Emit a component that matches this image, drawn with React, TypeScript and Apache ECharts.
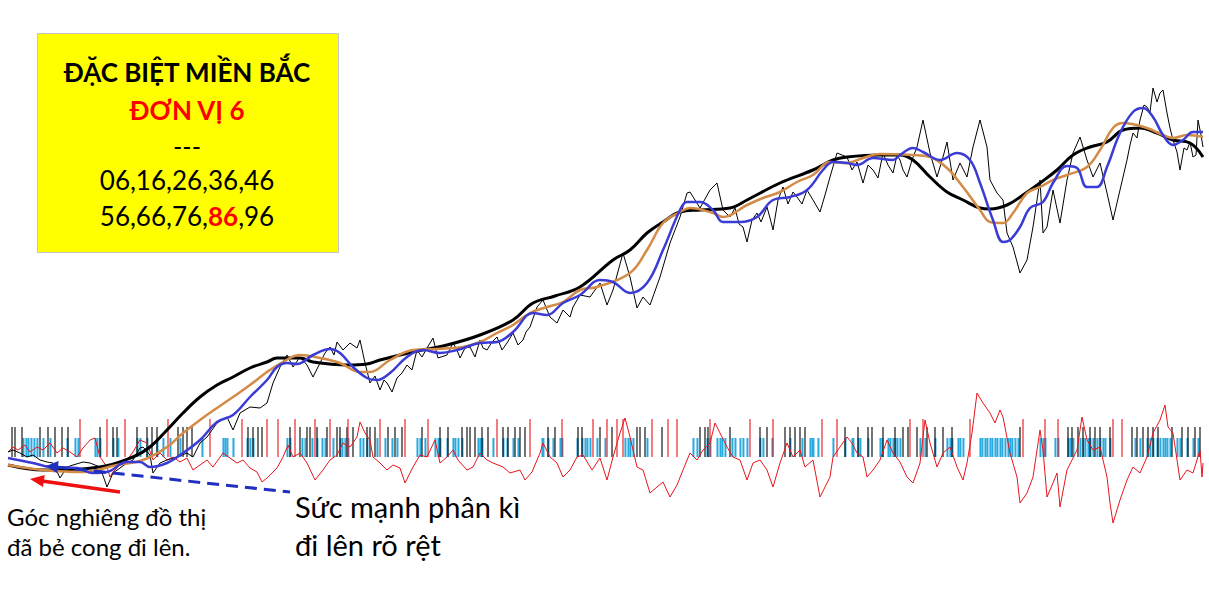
import React, { useEffect, useRef } from "react";
import * as echarts from "echarts";

// x unit: trading-day index (0..1195); price in arbitrary points
const priceX = [0,5,12,19,25,32,39,45,52,59,65,75,82,92,99,105,112,119,125,132,135,142,145,152,159,169,179,185,192,199,209,219,225,232,242,252,259,265,272,279,285,292,299,305,312,322,329,335,342,349,352,357,362,372,379,389,399,409,419,425,430,439,445,452,462,472,479,489,499,505,515,522,529,535,542,549,555,562,565,572,582,592,599,605,615,622,629,635,642,652,662,672,679,682,692,702,709,715,722,735,739,749,759,765,775,789,799,812,822,829,839,855,865,875,885,892,899,909,915,922,929,935,939,945,952,959,965,972,979,982,989,995,999,1005,1012,1019,1025,1032,1035,1039,1045,1052,1059,1065,1072,1079,1085,1092,1099,1105,1112,1119,1125,1132,1139,1145,1152,1159,1165,1172,1179,1185,1190,1195];
const priceY = [48,50,47,43,45,40,38,37,22,33,35,38,37,33,13,27,32,37,40,52,53,45,27,37,40,43,47,43,57,63,77,83,70,87,93,92,97,117,133,145,133,143,135,123,137,153,158,150,157,152,160,137,117,110,117,122,135,150,152,162,142,145,157,142,153,160,150,163,157,167,160,173,193,200,183,177,190,183,193,205,203,217,195,210,247,223,192,203,195,223,257,283,307,308,292,310,317,290,283,273,258,287,293,270,313,303,310,288,323,347,343,317,330,347,327,340,323,353,380,347,323,343,358,320,337,323,353,380,353,320,307,300,267,253,227,240,273,320,267,273,310,277,320,347,363,340,323,337,307,280,310,340,367,380,393,412,407,387,360,330,350,343,380,353];
// extra small swings read in the densest stretches
const priceDetailX = [317,326,367,376,384,394,404,414,449,457,467,475,484,494,510,518,727,731,744,753,762,770,780,785,794,805,817,844,849,860,870,880,889,895,904,1122,1129,1136,1142,1149,1155,1162,1169,1176,1182,1188,1193];
const priceDetailY = [147,145,124,120,108,127,130,143,150,152,143,152,158,150,155,168,292,276,280,278,282,300,296,308,296,300,305,330,338,335,322,335,345,330,340,355,362,395,388,398,410,372,348,352,358,345,365];

const fastX = [0,25,42,69,85,99,119,132,142,159,175,192,209,225,242,259,269,279,289,305,322,332,345,359,369,382,399,415,432,449,472,489,505,525,539,555,572,592,605,622,639,655,672,679,692,705,715,732,749,765,782,799,815,825,839,849,865,885,892,905,915,932,949,962,972,985,995,1002,1012,1022,1035,1045,1059,1069,1079,1089,1099,1112,1125,1135,1145,1155,1165,1175,1185,1195];
const fastY = [42,37,33,32,27,28,38,38,33,37,47,60,78,85,103,120,133,137,136,145,151,147,133,122,120,127,143,150,147,150,157,158,168,187,185,197,205,220,218,207,217,250,290,298,298,290,278,278,283,300,303,310,330,338,337,335,342,340,345,352,348,340,347,340,317,280,258,260,273,292,298,317,334,332,313,313,333,367,388,392,383,365,355,360,368,368];

const midX = [0,35,75,109,135,159,175,192,209,225,242,259,275,292,312,332,352,362,382,405,429,455,472,489,505,522,539,555,572,589,622,639,655,672,682,705,715,739,755,772,789,805,822,839,855,872,905,922,939,955,972,982,995,1005,1019,1032,1045,1059,1079,1092,1105,1115,1139,1155,1165,1179,1195];
const midY = [35,30,28,35,40,53,67,80,92,103,115,128,138,145,142,137,128,128,140,150,151,153,158,167,175,187,193,198,210,213,227,250,277,288,292,287,283,295,302,308,318,325,338,337,342,346,345,343,332,313,290,278,277,287,307,313,320,325,333,350,372,377,372,365,362,365,363];

const slowX = [0,35,92,125,142,159,175,192,209,225,242,259,269,292,305,339,359,372,405,439,472,505,525,547,572,605,622,639,655,672,692,722,739,772,805,825,839,872,892,905,922,939,955,972,982,999,1015,1032,1049,1065,1082,1099,1115,1132,1149,1165,1182,1195];
const slowY = [35,30,33,43,53,70,87,103,115,123,132,138,142,142,138,135,136,140,148,155,165,180,197,204,213,240,250,267,278,288,290,292,300,317,330,340,343,345,345,340,323,308,300,292,291,295,305,317,330,345,353,358,370,372,367,360,357,343];

const oscX = [0,5,10,17,22,29,35,42,49,55,62,69,75,82,87,92,99,102,105,112,119,125,132,139,145,152,159,165,172,179,185,192,199,205,215,222,229,235,242,249,254,259,269,275,280,285,292,299,307,315,322,329,335,342,349,352,357,362,365,372,379,385,392,397,405,412,419,427,432,439,445,450,459,465,472,479,485,495,502,512,517,524,532,535,542,549,555,562,569,575,584,592,599,605,612,617,622,629,635,642,649,655,662,669,675,682,689,695,702,707,712,719,725,732,739,745,752,759,765,772,779,785,792,797,805,812,822,825,832,839,844,849,855,859,865,872,879,885,892,899,905,912,917,922,929,935,942,949,955,959,964,969,975,982,987,992,995,1002,1009,1012,1019,1025,1032,1035,1039,1045,1049,1052,1059,1069,1074,1079,1085,1092,1099,1102,1105,1112,1119,1125,1132,1139,1145,1152,1157,1160,1165,1172,1179,1185,1192,1194,1195];
const oscY = [78,83,80,85,78,83,80,87,77,82,78,73,82,90,92,73,63,53,58,65,70,78,90,87,70,77,70,73,68,72,60,65,70,63,77,72,67,70,62,58,48,52,62,73,85,73,77,67,50,60,70,75,87,83,93,108,97,90,73,67,60,65,62,47,63,75,73,90,67,73,80,70,60,63,77,70,67,63,57,60,50,58,77,87,73,67,53,60,73,75,60,72,50,73,97,112,93,63,60,37,43,48,33,45,60,77,70,80,87,107,97,83,73,70,50,67,70,60,43,67,87,73,80,63,70,33,53,73,83,93,87,77,73,53,60,70,90,77,68,53,47,67,110,87,63,77,83,63,50,67,97,137,127,117,107,120,113,77,53,27,37,53,100,80,33,47,57,23,60,80,113,90,80,83,53,27,7,30,50,63,57,73,97,110,125,103,97,50,60,57,80,53,67];

const blackTicks = [4,7,14,32,40,47,54,60,92,105,109,129,139,144,149,170,175,179,184,240,245,250,254,282,292,299,302,309,319,329,332,339,345,359,362,367,380,387,394,414,432,440,454,459,462,467,474,480,495,500,507,512,517,540,547,570,574,592,604,629,632,637,654,692,697,700,722,752,759,777,782,787,792,797,837,850,860,864,875,887,895,900,909,919,927,935,944,1012,1060,1064,1070,1075,1082,1087,1092,1102,1124,1129,1135,1140,1145,1150,1164,1174,1180,1187,1192];
const redTicks = [72,99,117,160,202,234,259,270,287,307,322,340,372,397,420,489,522,554,585,599,609,615,644,660,669,702,742,765,814,829,902,915,962,1015,1037,1050,1105,1114];
const cyanTicks = [15,18,20,23,26,29,35,42,59,67,70,87,89,92,105,110,129,132,139,149,155,162,172,194,215,217,219,225,239,242,245,279,282,294,297,304,309,314,317,325,332,334,337,340,352,355,359,369,377,384,389,409,412,417,427,430,432,439,445,447,450,454,470,472,474,485,495,499,505,510,534,535,540,545,552,554,569,574,577,579,582,589,597,617,620,622,625,639,685,689,699,702,709,712,714,717,724,727,732,735,739,752,755,764,782,794,802,804,805,810,825,837,844,845,850,852,860,872,874,880,882,885,887,889,892,912,917,927,939,942,944,950,952,955,972,974,977,979,982,984,987,989,992,994,997,1000,1002,1004,1007,1010,1032,1035,1037,1047,1050,1060,1062,1065,1072,1075,1077,1080,1082,1085,1089,1092,1095,1097,1102,1127,1132,1139,1142,1145,1149,1152,1155,1157,1159,1162,1169,1172,1179,1185,1190];
const tickLevels = { red: 38, black: 30, cyan: 19 };

const titleLines = ["ĐẶC BIỆT MIỀN BẮC", "ĐƠN VỊ 6", "---", "06,16,26,36,46"];
const lastLine = ["56,66,76,", "86", ",96"];
const noteLeft = ["Góc nghiêng đồ thị", "đã bẻ cong đi lên."];
const noteRight = ["Sức mạnh phân kì", "đi lên rõ rệt"];

const FONT = "Lato, 'Open Sans', 'DejaVu Sans', sans-serif";
const zip = (xs: number[], ys: number[]) => xs.map((x, i) => [x, ys[i]]);

export default function App() {
  const ref = useRef<HTMLDivElement>(null);
  useEffect(() => {
    const chart = echarts.init(ref.current!, null, { renderer: "svg" });
    const grids = [
      { left: 8, right: 6, top: 80, height: 420 },
      { left: 8, right: 6, top: 390, height: 140 },
      { left: 8, right: 6, top: 419, height: 38 },
    ];
    const xAxis = grids.map((_, i) => ({ type: "value", gridIndex: i, min: 0, max: 1195, show: false }));
    const yAxis = [
      { type: "value", gridIndex: 0, min: 0, max: 420, show: false },
      { type: "value", gridIndex: 1, min: 0, max: 140, show: false },
      { type: "value", gridIndex: 2, min: 0, max: 38, show: false },
    ];
    const barSeries = (ticks: number[], level: number, color: string, w: number, z: number) => ({
      type: "bar",
      xAxisIndex: 2,
      yAxisIndex: 2,
      barWidth: w,
      barGap: "-100%",
      z,
      itemStyle: { color },
      data: ticks.map((t) => [t, level]),
    });
    const lineSeries = (data: number[][], color: string, width: number, axis: number, z: number, smooth: number | boolean) => ({
      type: "line",
      xAxisIndex: axis,
      yAxisIndex: axis,
      showSymbol: false,
      smooth,
      z,
      lineStyle: { color, width },
      data,
    });
    const priceData = zip(priceX, priceY).concat(zip(priceDetailX, priceDetailY)).sort((a, b) => a[0] - b[0]);
    const cx = 187;
    chart.setOption({
      animation: false,
      grid: grids,
      xAxis,
      yAxis,
      series: [
        barSeries(cyanTicks, tickLevels.cyan, "#27aae0", 2, 1),
        barSeries(blackTicks, tickLevels.black, "#000000", 1.1, 2),
        barSeries(redTicks, tickLevels.red, "#e8141c", 1.1, 2),
        lineSeries(zip(oscX, oscY), "#e8141c", 1, 1, 3, false),
        lineSeries(priceData, "#000000", 1, 0, 4, false),
        lineSeries(zip(slowX, slowY), "#000000", 3, 0, 5, 0.4),
        lineSeries(zip(midX, midY), "#d38b45", 2.5, 0, 6, 0.4),
        lineSeries(zip(fastX, fastY), "#3b3bd6", 2.5, 0, 7, 0.4),
      ],
      graphic: [
        { type: "rect", shape: { x: 37.5, y: 33.5, width: 301, height: 219 }, style: { fill: "#ffff00", stroke: "#c4c4c4", lineWidth: 1 }, z: 10 },
        { type: "text", x: cx, y: 72, z: 11, style: { text: titleLines[0], fontFamily: FONT, fontWeight: "bold", fontSize: 26, fill: "#000", align: "center", verticalAlign: "middle" } },
        { type: "text", x: cx, y: 110, z: 11, style: { text: titleLines[1], fontFamily: FONT, fontWeight: "bold", fontSize: 26, fill: "#ff0000", align: "center", verticalAlign: "middle" } },
        { type: "text", x: cx, y: 146, z: 11, style: { text: titleLines[2], fontFamily: FONT, fontSize: 25, fill: "#000", align: "center", verticalAlign: "middle" } },
        { type: "text", x: cx, y: 180, z: 11, style: { text: titleLines[3], fontFamily: FONT, fontSize: 26, fill: "#000", align: "center", verticalAlign: "middle" } },
        {
          type: "text", x: cx, y: 216, z: 11,
          style: {
            text: `{n|${lastLine[0]}}{r|${lastLine[1]}}{n|${lastLine[2]}}`,
            align: "center", verticalAlign: "middle",
            rich: {
              n: { fontFamily: FONT, fontSize: 26, fill: "#000" },
              r: { fontFamily: FONT, fontSize: 26, fontWeight: "bold", fill: "#ff0000" },
            },
          },
        },
        // red arrow
        { type: "line", z: 12, shape: { x1: 120, y1: 492, x2: 42, y2: 481 }, style: { stroke: "#ee1111", lineWidth: 3.5 } },
        { type: "polygon", z: 12, shape: { points: [[30, 479], [44.7, 475], [43, 487]] }, style: { fill: "#ee1111" } },
        // blue dashed arrow
        { type: "line", z: 12, shape: { x1: 56, y1: 467, x2: 290, y2: 492 }, style: { stroke: "#1f2fc0", lineWidth: 3, lineDash: [12, 7] } },
        { type: "polygon", z: 12, shape: { points: [[46, 466], [58.6, 461], [57.3, 473.3]] }, style: { fill: "#1f2fc0" } },
        { type: "text", x: 7, y: 516, z: 11, style: { text: noteLeft[0], fontFamily: FONT, fontSize: 24, fill: "#000", align: "left", verticalAlign: "middle" } },
        { type: "text", x: 7, y: 546, z: 11, style: { text: noteLeft[1], fontFamily: FONT, fontSize: 24, fill: "#000", align: "left", verticalAlign: "middle" } },
        { type: "text", x: 295, y: 506, z: 11, style: { text: noteRight[0], fontFamily: FONT, fontSize: 29, fill: "#000", align: "left", verticalAlign: "middle" } },
        { type: "text", x: 295, y: 544, z: 11, style: { text: noteRight[1], fontFamily: FONT, fontSize: 29, fill: "#000", align: "left", verticalAlign: "middle" } },
      ],
    });
    return () => chart.dispose();
  }, []);
  return <div ref={ref} style={{ position: "fixed", left: 0, top: 0, width: 1209, height: 611, background: "#ffffff" }} />;
}
